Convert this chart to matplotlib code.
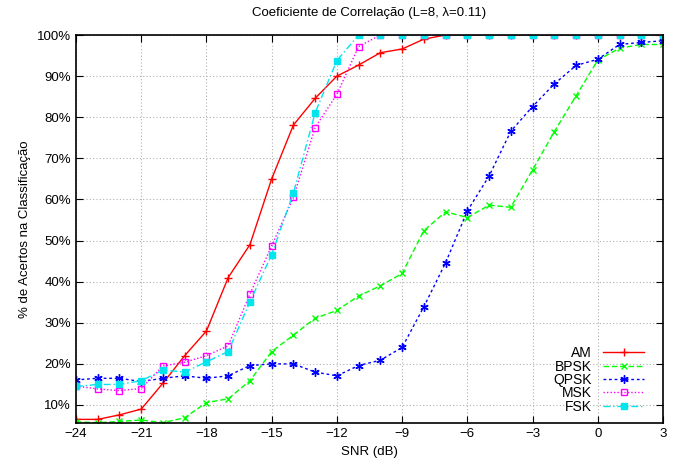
import matplotlib
matplotlib.use("Agg")
import matplotlib.pyplot as plt
import matplotlib.ticker
import numpy as np

plt.rcParams.update({"font.family": "sans-serif",
                     "font.sans-serif": ["Liberation Sans", "DejaVu Sans"]})

snr = np.arange(-24, 4)

am = [6.5, 6.5, 7.6, 9.0, 15.3, 22.0, 28.0, 41.0, 49.0, 65.0, 78.1, 84.6, 90.0, 92.7,
      95.7, 96.6, 99.0, 100, 100, 100, 100, 100, 100, 100, 100, 100, 100, 100]
bpsk = [5.9, 5.7, 6.0, 6.35, 5.7, 6.9, 10.6, 11.5, 15.9, 23.0, 27.0, 31.1, 33.0, 36.5,
        39.0, 42.0, 52.4, 57.0, 55.6, 58.6, 58.1, 67.2, 76.5, 85.2, 93.9, 96.8, 97.7, 97.7]
qpsk = [16.1, 16.5, 16.5, 15.7, 16.5, 17.1, 16.5, 17.1, 19.6, 20.0, 20.0, 18.0, 17.1, 19.6,
        20.9, 24.0, 33.9, 44.6, 57.2, 65.7, 76.6, 82.6, 88.1, 92.6, 94.1, 97.7, 98.2, 98.6]
msk = [14.6, 13.9, 13.5, 14.0, 19.5, 20.4, 22.0, 24.4, 37.0, 48.7, 60.5, 77.5, 85.6, 97.2,
       100, 100, 100, 100, 100, 100, 100, 100, 100, 100, 100, 100, 100, 100]
fsk = [14.5, 15.0, 15.0, 15.9, 18.5, 18.0, 20.5, 23.0, 35.1, 46.6, 61.6, 81.1, 93.8, 100,
       100, 100, 100, 100, 100, 100, 100, 100, 100, 100, 100, 100, 100, 100]

fig = plt.figure(figsize=(6.76, 4.67), dpi=100)
ax = fig.add_axes([0.1124, 0.0936, 0.8684, 0.8314])

ax.plot(snr, am, color='#ff0000', linestyle='-', linewidth=1, marker='+', markersize=6,
        label='AM')
ax.plot(snr, bpsk, color='#00ff00', linestyle=(0, (4, 2)), linewidth=1, marker='x',
        markersize=5, label='BPSK')
ax.plot(snr, qpsk, color='#0000ff', linestyle=(0, (2, 2)), linewidth=1, marker=(6, 2, 0),
        markersize=6, label='QPSK')
ax.plot(snr, msk, color='#ff00ff', linestyle=(0, (1, 1.5)), linewidth=1, marker='s',
        markersize=5, markerfacecolor='none', label='MSK')
ax.plot(snr, fsk, color='#00e5ee', linestyle=(0, (5, 2, 1, 2)), linewidth=1, marker='s',
        markersize=4.5, label='FSK')

ax.set_xlim(-24, 3)
ax.set_ylim(5.55, 100)
ax.set_xticks(np.arange(-24, 4, 3))
ax.set_yticks(np.arange(10, 101, 10))
ax.xaxis.set_major_formatter(matplotlib.ticker.FuncFormatter(
    lambda v, p: ('\u2212%d' % -v) if v < 0 else '%d' % v))
ax.yaxis.set_major_formatter(matplotlib.ticker.StrMethodFormatter("{x:.0f}%"))
ax.tick_params(direction='in', top=True, right=True, length=5, labelsize=9.5)
ax.grid(color='#b0b0b0', linestyle=(0, (1, 2)), linewidth=0.8)
for s in ax.spines.values():
    s.set_linewidth(1.2)

ax.set_title('Coeficiente de Correlação (L=8, \u03bb=0.11)', fontsize=9.5, pad=14)
ax.set_xlabel('SNR (dB)', fontsize=9.5)
ax.set_ylabel('% de Acertos na Classificação', fontsize=9.5)

leg = ax.legend(loc='lower right', frameon=False, markerfirst=False, fontsize=10,
                handlelength=3.0, labelspacing=-0.05, borderaxespad=0.3,
                bbox_to_anchor=(0.985, 0.0))
for t in leg.get_texts():
    t.set_ha('right')

fig.savefig('out.png', dpi=100)
